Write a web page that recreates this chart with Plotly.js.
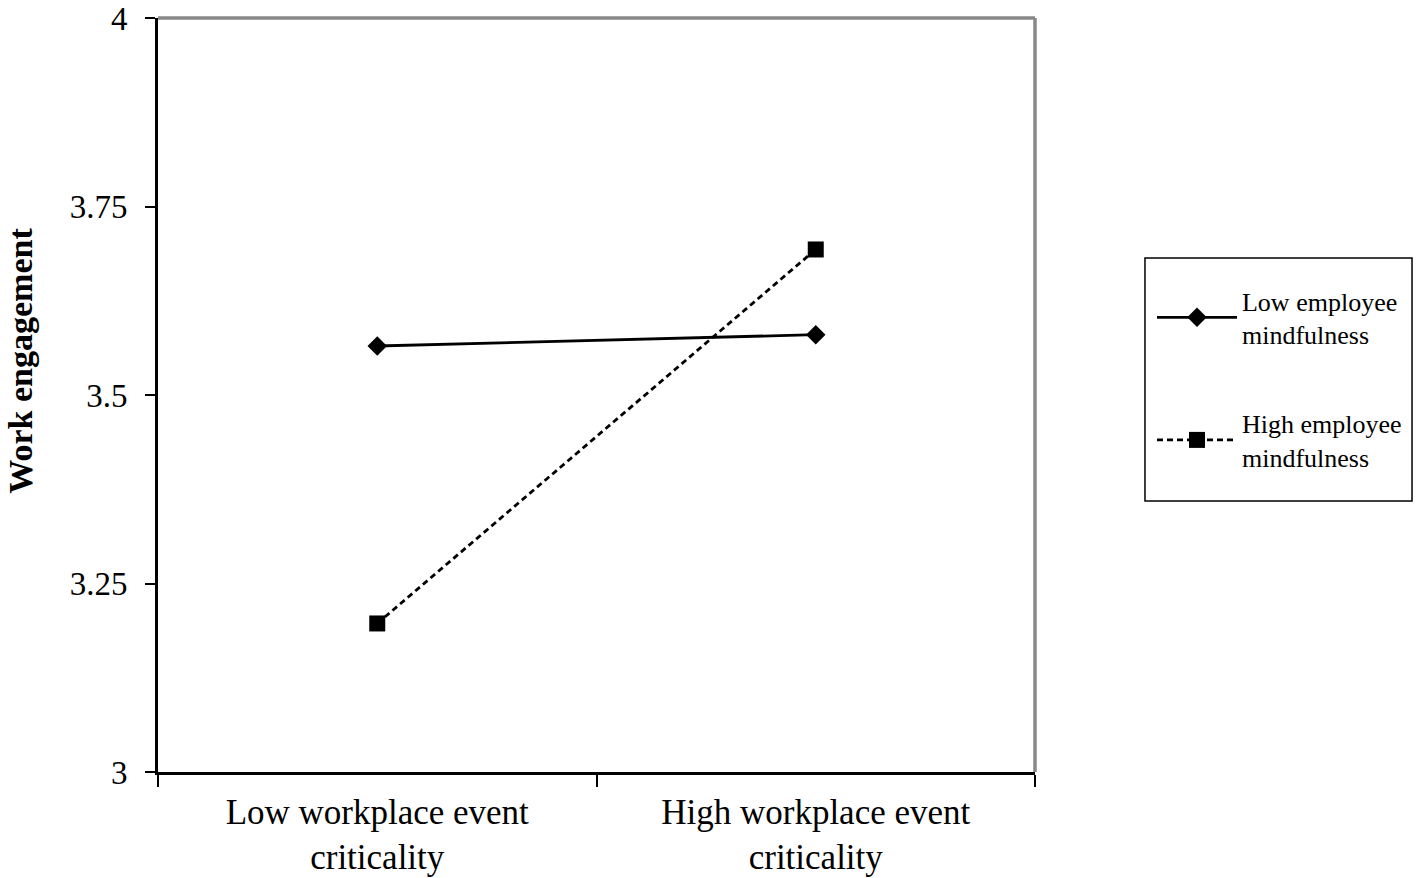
<!DOCTYPE html>
<html>
<head>
<meta charset="utf-8">
<script src="https://cdn.plot.ly/plotly-3.0.1.min.js"></script>
<style>
  html, body { margin: 0; padding: 0; background: #fff; }
  #plot { width: 1418px; height: 878px; }
</style>
</head>
<body>
<div id="plot"></div>
<script>
// categories on the x axis
let criticality = ["Low workplace event<br>criticality", "High workplace event<br>criticality"];

// work engagement for each mindfulness group
let lowMindfulness = [3.565, 3.58];
let highMindfulness = [3.197, 3.693];

let yTicks = [3, 3.25, 3.5, 3.75, 4];

let serif = "Liberation Serif, Times New Roman, serif";

let trace1 = {
  x: criticality,
  y: lowMindfulness,
  name: "Low employee<br>mindfulness",
  type: "scatter",
  mode: "lines+markers",
  line: {color: "#000", width: 2.8},
  marker: {symbol: "diamond", size: 15, color: "#000"},
  legendgroup: "a"
};

let trace2 = {
  x: criticality,
  y: highMindfulness,
  name: "High employee<br>mindfulness",
  type: "scatter",
  mode: "lines+markers",
  line: {color: "#000", width: 2.8, dash: "6px,4px"},
  marker: {symbol: "square", size: 16, color: "#000"},
  legendgroup: "b"
};

let layout = {
  width: 1418,
  height: 878,
  margin: {l: 158, r: 383, t: 18, b: 106, autoexpand: false},
  paper_bgcolor: "#fff",
  plot_bgcolor: "#fff",
  font: {family: serif, color: "#000"},
  showlegend: true,
  legend: {
    x: 1.1334, y: 0.6565, xanchor: "left", yanchor: "top",
    bgcolor: "rgba(0,0,0,0)",
    borderwidth: 0,
    font: {family: serif, size: 26, color: "#000"},
    tracegroupgap: 52,
    itemwidth: 80
  },
  xaxis: {
    type: "category",
    range: [-0.5, 1.5],
    tickson: "boundaries",
    ticks: "outside",
    ticklen: 12,
    tickwidth: 2,
    tickcolor: "#000",
    ticklabelstandoff: 7,
    showline: true,
    linecolor: "#000",
    linewidth: 2.8,
    showgrid: false,
    zeroline: false,
    tickfont: {family: serif, size: 35, color: "#000"},
    automargin: false
  },
  yaxis: {
    range: [3, 4],
    tickvals: yTicks,
    ticktext: yTicks.map(String),
    ticks: "outside",
    ticklen: 10,
    tickwidth: 2,
    tickcolor: "#000",
    ticklabelstandoff: 11,
    showline: true,
    linecolor: "#000",
    linewidth: 2.8,
    showgrid: false,
    zeroline: false,
    tickfont: {family: serif, size: 33, color: "#000"},
    automargin: false
  },
  annotations: [
    {text: "<b>Work engagement</b>", xref: "paper", yref: "paper", x: -0.157, y: 0.546,
     xanchor: "center", yanchor: "middle", textangle: -90, showarrow: false,
     font: {family: serif, size: 34, color: "#000"}}
  ],
  shapes: [
    // grey frame on top and right of the plot area
    {type: "line", xref: "paper", yref: "paper", x0: 0, x1: 1, y0: 1, y1: 1, line: {color: "#888", width: 3.5}},
    {type: "line", xref: "paper", yref: "paper", x0: 1, x1: 1, y0: 0, y1: 1, line: {color: "#888", width: 3.5}},
    // legend box
    {type: "rect", xref: "paper", yref: "paper", x0: 1.1254, x1: 1.4299, y0: 0.3594, y1: 0.6817,
     line: {color: "#000", width: 1.5}}
  ]
};

Plotly.newPlot("plot", [trace1, trace2], layout, {displayModeBar: false});
</script>
</body>
</html>
